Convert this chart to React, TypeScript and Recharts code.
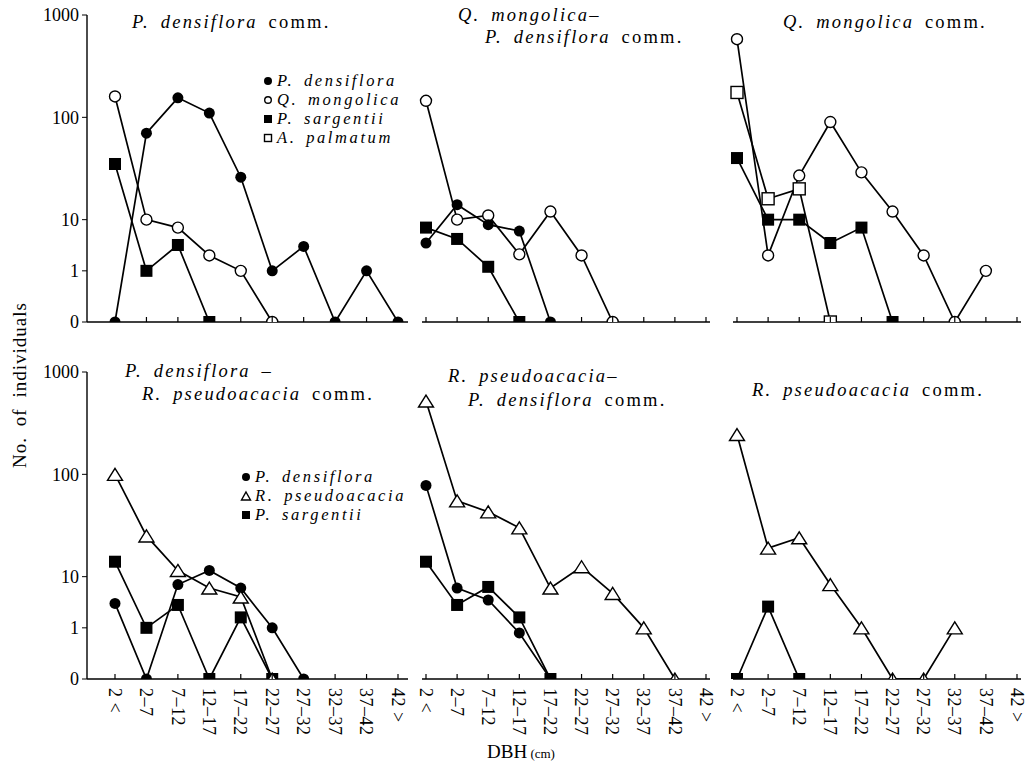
import React from 'react';
import { LineChart, Line, XAxis, YAxis } from 'recharts';

// DBH classes (cm)
const dbhClasses = ['2 <', '2–7', '7–12', '12–17', '17–22', '22–27', '27–32', '32–37', '37–42', '42 >'];
const yTickValues = [0, 1, 10, 100, 1000];

// P. densiflora comm.
const pdA = [0, 70, 155, 110, 26, 1, 3, 0, 1, 0];
const qmA = [160, 10, 7, 2, 1, 0, null, null, null, null];
const psA = [35, 1, 3.2, 0, null, null, null, null, null, null];

// Q. mongolica - P. densiflora comm.
const qmB = [145, 10, 11, 2.1, 12, 2, 0, null, null, null];
const pdB = [3.5, 14, 8, 6, 0, null, null, null, null, null];
const psB = [7, 4.2, 1.2, 0, null, null, null, null, null, null];

// Q. mongolica comm.
const qmC = [580, 2, 27, 90, 29, 12, 2, 0, 1, null];
const apC = [175, 16, 20, 0, null, null, null, null, null, null];
const psC = [40, 10, 10, 3.5, 7, 0, null, null, null, null];

// P. densiflora - R. pseudoacacia comm.
const rpD = [100, 25, 11.5, 6, 4, 0, null, null, null, null];
const pdD = [3, 0, 7, 11.5, 6, 1, 0, null, null, null];
const psD = [14, 1, 2.8, 0, 1.6, 0, null, null, null, null];

// R. pseudoacacia - P. densiflora comm.
const rpE = [520, 55, 43, 30, 6, 12.5, 4.7, 1, 0, null];
const pdE = [78, 6, 3.5, 0.9, 0, null, null, null, null, null];
const psE = [14, 2.8, 6.3, 1.6, 0, null, null, null, null, null];

// R. pseudoacacia comm.
const rpF = [245, 19, 24, 7, 1, 0, 0, 1, null, null];
const psF = [0, 2.6, 0, null, null, null, null, null, null, null];

const SERIF = '"Liberation Serif", "Times New Roman", serif';

// broken log axis: 0..1 linear, 1..10 one unit, 10..1000 two units per decade
const toAxis = (v: number | null) => {
  if (v == null) return null;
  if (v <= 1) return v;
  if (v <= 10) return 1 + Math.log10(v);
  return 2 + 2 * Math.log10(v / 10);
};

type Kind = 'dot' | 'circle' | 'square' | 'box' | 'triangle';

function marker(kind: Kind, cx: number, cy: number, small = false, key?: any) {
  const sw = 1.4;
  if (kind === 'dot') return <circle key={key} cx={cx} cy={cy} r={small ? 4 : 5.5} fill="#000" />;
  if (kind === 'circle')
    return <circle key={key} cx={cx} cy={cy} r={small ? 3.3 : 5.5} fill="#fff" stroke="#000" strokeWidth={sw} />;
  if (kind === 'square') {
    const s = small ? 8 : 12;
    return <rect key={key} x={cx - s / 2} y={cy - s / 2} width={s} height={s} fill="#000" />;
  }
  if (kind === 'box') {
    const s = small ? 7 : 12;
    return <rect key={key} x={cx - s / 2} y={cy - s / 2} width={s} height={s} fill="#fff" stroke="#000" strokeWidth={sw} />;
  }
  const w = small ? 9 : 15;
  const h = small ? 8 : 12;
  return (
    <path
      key={key}
      d={`M${cx},${cy - h / 2} L${cx + w / 2},${cy + h / 2} L${cx - w / 2},${cy + h / 2} Z`}
      fill="#fff"
      stroke="#000"
      strokeWidth={sw}
    />
  );
}

type Series = { key: string; values: (number | null)[]; kind: Kind };

function XTick(props: any) {
  const { x, y, payload, showLabel } = props;
  return (
    <g>
      <line x1={x} y1={y} x2={x} y2={y - 5} stroke="#000" strokeWidth={1.2} />
      {showLabel && (
        <text
          x={x}
          y={y}
          dx={9}
          dy="0.35em"
          transform={`rotate(90 ${x} ${y})`}
          textAnchor="start"
          fontFamily={SERIF}
          fontSize={18}
          letterSpacing={0.5}
          fill="#000"
        >
          {payload.value}
        </text>
      )}
    </g>
  );
}

type PanelProps = {
  left: number;
  top: number;
  width: number;
  height: number;
  margin: { top: number; right: number; bottom: number; left: number };
  padding: { left: number; right: number };
  xHeight: number;
  showY: boolean;
  showLabels: boolean;
  series: Series[];
};

function Panel({ left, top, width, height, margin, padding, xHeight, showY, showLabels, series }: PanelProps) {
  const rows = dbhClasses.map((c, i) => {
    const row: any = { dbh: c };
    series.forEach((s) => {
      row[s.key] = toAxis(s.values[i] ?? null);
    });
    return row;
  });
  return (
    <div style={{ position: 'absolute', left, top }}>
      <LineChart width={width} height={height} data={rows} margin={margin}>
        <XAxis
          dataKey="dbh"
          interval={0}
          padding={padding}
          height={xHeight}
          axisLine={{ stroke: '#000', strokeWidth: 1.4 }}
          tickLine={false}
          tickSize={0}
          tickMargin={0}
          tick={(p: any) => <XTick key={p.index} {...p} showLabel={showLabels} />}
        />
        <YAxis
          hide={!showY}
          type="number"
          domain={[0, 6]}
          ticks={yTickValues.map((v) => toAxis(v) as number)}
          tickFormatter={(t: number, i: number) => String(yTickValues[i])}
          width={60}
          tickSize={5}
          tickMargin={3}
          axisLine={{ stroke: '#000', strokeWidth: 1.4 }}
          tickLine={{ stroke: '#000' }}
          tick={{ fontFamily: SERIF, fontSize: 18, fill: '#000' }}
          allowDataOverflow
        />
        {series.map((s) => (
          <Line
            key={s.key}
            dataKey={s.key}
            type="linear"
            stroke="#000"
            strokeWidth={1.7}
            isAnimationActive={false}
            activeDot={false}
            dot={(p: any) =>
              p.value == null || p.cy == null ? <g key={p.index} /> : marker(s.kind, p.cx, p.cy, false, p.index)
            }
          />
        ))}
      </LineChart>
    </div>
  );
}

const Sp = ({ children }: { children: React.ReactNode }) => <i>{children}</i>;

function Title({ left, top, children }: { left: number; top: number; children: React.ReactNode }) {
  return (
    <div
      style={{
        position: 'absolute',
        left,
        top,
        fontFamily: SERIF,
        fontSize: 18.5,
        lineHeight: '21px',
        letterSpacing: 2.2,
        wordSpacing: 4,
        whiteSpace: 'pre',
      }}
    >
      {children}
    </div>
  );
}

function LegendBox({ left, top, items }: { left: number; top: number; items: { kind: Kind; label: string }[] }) {
  return (
    <div style={{ position: 'absolute', left, top, fontFamily: SERIF, fontSize: 16.5, lineHeight: '19px' }}>
      {items.map((it) => (
        <div key={it.label} style={{ display: 'flex', alignItems: 'center', height: 19, letterSpacing: 2.6, wordSpacing: 3 }}>
          <svg width={12} height={12} style={{ marginRight: 3 }}>
            {marker(it.kind, 6, 6, true)}
          </svg>
          <i style={{ whiteSpace: 'pre' }}>{it.label}</i>
        </div>
      ))}
    </div>
  );
}

const topRow = { top: 0, height: 340, mt: 15, mb: 0, xh: 18 };
const botRow = { top: 345, height: 420, mt: 27, mb: 16, xh: 70 };
const cols = [
  { left: 0, width: 420, ml: 27, mr: 12, pad: { left: 28, right: 10 }, y: true },
  { left: 410, width: 310, ml: 12, mr: 10, pad: { left: 4, right: 4 }, y: false },
  { left: 722, width: 305, ml: 11, mr: 6, pad: { left: 4, right: 4 }, y: false },
];

export default function App() {
  const panels: { row: typeof topRow; col: number; series: Series[]; labels: boolean }[] = [
    {
      row: topRow,
      col: 0,
      labels: false,
      series: [
        { key: 'pd', values: pdA, kind: 'dot' },
        { key: 'ps', values: psA, kind: 'square' },
        { key: 'qm', values: qmA, kind: 'circle' },
      ],
    },
    {
      row: topRow,
      col: 1,
      labels: false,
      series: [
        { key: 'qm', values: qmB, kind: 'circle' },
        { key: 'pd', values: pdB, kind: 'dot' },
        { key: 'ps', values: psB, kind: 'square' },
      ],
    },
    {
      row: topRow,
      col: 2,
      labels: false,
      series: [
        { key: 'qm', values: qmC, kind: 'circle' },
        { key: 'ps', values: psC, kind: 'square' },
        { key: 'ap', values: apC, kind: 'box' },
      ],
    },
    {
      row: botRow,
      col: 0,
      labels: true,
      series: [
        { key: 'pd', values: pdD, kind: 'dot' },
        { key: 'ps', values: psD, kind: 'square' },
        { key: 'rp', values: rpD, kind: 'triangle' },
      ],
    },
    {
      row: botRow,
      col: 1,
      labels: true,
      series: [
        { key: 'pd', values: pdE, kind: 'dot' },
        { key: 'ps', values: psE, kind: 'square' },
        { key: 'rp', values: rpE, kind: 'triangle' },
      ],
    },
    {
      row: botRow,
      col: 2,
      labels: true,
      series: [
        { key: 'ps', values: psF, kind: 'square' },
        { key: 'rp', values: rpF, kind: 'triangle' },
      ],
    },
  ];

  return (
    <div style={{ position: 'absolute', left: 0, top: 0, width: 1027, height: 765, background: '#fff', overflow: 'hidden' }}>
      {panels.map((p, i) => {
        const c = cols[p.col];
        return (
          <Panel
            key={i}
            left={c.left}
            top={p.row.top}
            width={c.width}
            height={p.row.height}
            margin={{ top: p.row.mt, right: c.mr, bottom: p.row.mb, left: c.ml }}
            padding={c.pad}
            xHeight={p.row.xh}
            showY={c.y}
            showLabels={p.labels}
            series={p.series}
          />
        );
      })}

      <Title left={132} top={12}>
        <Sp>P. densiflora</Sp> comm.
      </Title>
      <Title left={458} top={5}>
        <Sp>Q. mongolica</Sp>–
      </Title>
      <Title left={485} top={27}>
        <Sp>P. densiflora</Sp> comm.
      </Title>
      <Title left={783} top={12}>
        <Sp>Q. mongolica</Sp> comm.
      </Title>
      <Title left={125} top={361}>
        <Sp>P. densiflora</Sp> –
      </Title>
      <Title left={142} top={384}>
        <Sp>R. pseudoacacia</Sp> comm.
      </Title>
      <Title left={448} top={366}>
        <Sp>R. pseudoacacia</Sp>–
      </Title>
      <Title left={468} top={390}>
        <Sp>P. densiflora</Sp> comm.
      </Title>
      <Title left={752} top={380}>
        <Sp>R. pseudoacacia</Sp> comm.
      </Title>

      <LegendBox
        left={262}
        top={71}
        items={[
          { kind: 'dot', label: 'P. densiflora' },
          { kind: 'circle', label: 'Q. mongolica' },
          { kind: 'square', label: 'P. sargentii' },
          { kind: 'box', label: 'A. palmatum' },
        ]}
      />
      <LegendBox
        left={240}
        top={467}
        items={[
          { kind: 'dot', label: 'P. densiflora' },
          { kind: 'triangle', label: 'R. pseudoacacia' },
          { kind: 'square', label: 'P. sargentii' },
        ]}
      />

      <div
        style={{
          position: 'absolute',
          left: -90,
          top: 375,
          width: 220,
          height: 20,
          lineHeight: '20px',
          textAlign: 'center',
          transform: 'rotate(-90deg)',
          fontFamily: SERIF,
          fontSize: 19,
          letterSpacing: 1,
          wordSpacing: 5,
        }}
      >
        No. of individuals
      </div>
      <div style={{ position: 'absolute', left: 487, top: 741, fontFamily: SERIF, fontSize: 19, lineHeight: '22px' }}>
        DBH<span style={{ fontSize: 13 }}> (cm)</span>
      </div>
    </div>
  );
}
